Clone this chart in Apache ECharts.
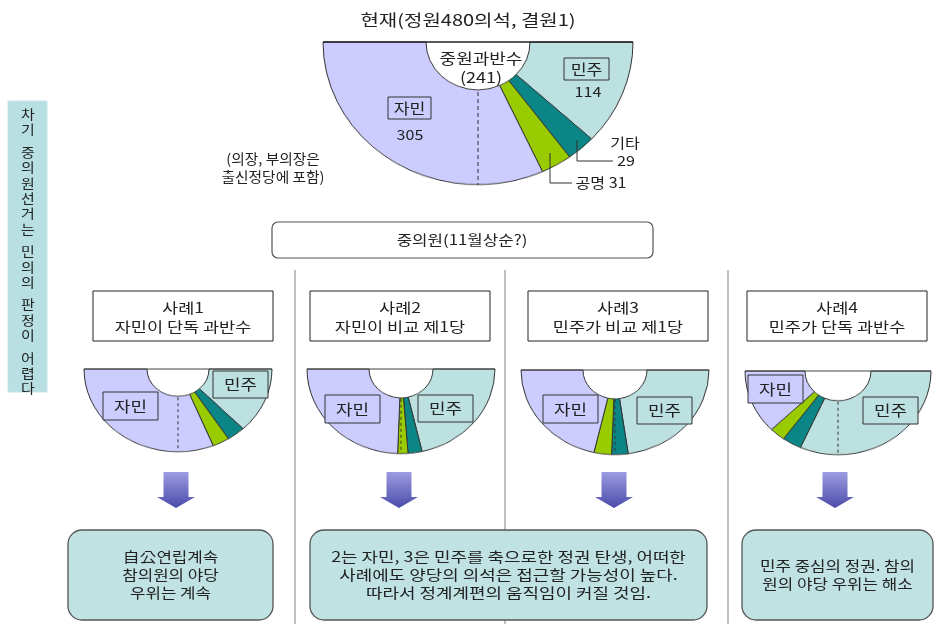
<!DOCTYPE html>
<html><head><meta charset="utf-8">
<script src="https://cdn.jsdelivr.net/npm/echarts@6/dist/echarts.min.js"></script>
<style>
html,body{margin:0;padding:0;background:#fff;width:937px;height:624px;overflow:hidden}
.pie{position:absolute;z-index:1}
#overlay{position:absolute;left:0;top:0;width:937px;height:624px;z-index:2}
</style></head><body>
<div id="p0" class="pie"></div>
<div id="p1" class="pie"></div>
<div id="p2" class="pie"></div>
<div id="p3" class="pie"></div>
<div id="p4" class="pie"></div>
<div id="overlay"></div>
<script>
// ---- data ----
const parties = ['민주', '기타', '공명', '자민'];
const currentSeats = [114, 29, 31, 305];
const case1Seats = [123, 30, 28, 298];
const case2Seats = [205, 23, 17, 234];
const case3Seats = [218, 27, 29, 205];
const case4Seats = [303, 32, 26, 118];
const partyColors = ['#bde0e0', '#0b8585', '#99cc00', '#ccccff'];
const title = '현재(정원480의석, 결원1)';
const caseTitles = ['사례1\n자민이 단독 과반수', '사례2\n자민이 비교 제1당', '사례3\n민주가 비교 제1당', '사례4\n민주가 단독 과반수'];
const conclusions = ['自公연립계속\n참의원의 야당\n우위는 계속',
  '2는 자민, 3은 민주를 축으로한 정권 탄생, 어떠한\n사례에도 양당의 의석은 접근할 가능성이 높다.\n따라서 정계계편의 움직임이 커질 것임.',
  '민주 중심의 정권. 참의\n원의 야당 우위는 해소'];
const sideText = '차기 중의원선거는 민의의 판정이 어렵다';

const FONT = '"Noto Sans CJK KR", "Noto Sans", sans-serif';

// ---- pies ----
function makePie(id, seats, cx, cy, r0, r, sy) {
  const size = 2 * r + 10;
  const el = document.getElementById(id);
  el.style.left = (cx - size / 2) + 'px';
  el.style.top = (cy - size / 2) + 'px';
  el.style.width = size + 'px';
  el.style.height = size + 'px';
  el.style.transformOrigin = (size / 2) + 'px ' + (size / 2) + 'px';
  el.style.transform = 'scaleY(' + sy + ')';
  const total = seats.reduce((a, b) => a + b, 0);
  const data = seats.map((v, i) => ({ name: parties[i], value: v, itemStyle: { color: partyColors[i] } }));
  data.push({ name: '', value: total, itemStyle: { color: 'rgba(0,0,0,0)', borderWidth: 0 } });
  const ch = echarts.init(el, null, { renderer: 'canvas' });
  ch.setOption({
    animation: false,
    series: [{
      type: 'pie', center: ['50%', '50%'], radius: [r0, r],
      startAngle: 0, clockwise: true, silent: true,
      label: { show: false }, labelLine: { show: false },
      itemStyle: { borderColor: '#333', borderWidth: 1 },
      data: data
    }]
  });
}
makePie('p0', currentSeats, 478, 42, 52, 155, 0.92);
makePie('p1', case1Seats, 178, 369, 31, 94, 0.88);
makePie('p2', case2Seats, 401, 369, 32, 94, 0.9);
makePie('p3', case3Seats, 615, 370, 32, 94, 0.9);
makePie('p4', case4Seats, 838, 371, 33, 93, 0.9);

// ---- overlay graphics ----
const g = [];
function text(t, x, y, size, sx, opts) {
  g.push({ type: 'text', x: x, y: y, z: 10, scaleX: sx || 1.15,
    style: Object.assign({ text: t, font: size + 'px ' + FONT, fill: '#222', align: 'center', verticalAlign: 'middle', lineHeight: Math.round(size * 1.3) }, opts || {}) });
}
function rect(x, y, w, h, fill, stroke, r, lw, z) {
  g.push({ type: 'rect', z: z || 5, shape: { x: x, y: y, width: w, height: h, r: r || 0 }, style: { fill: fill, stroke: stroke, lineWidth: lw || 1 } });
}
function line(x1, y1, x2, y2, stroke, lw, dash, z) {
  g.push({ type: 'line', z: z || 6, shape: { x1: x1, y1: y1, x2: x2, y2: y2 }, style: { stroke: stroke, lineWidth: lw || 1, lineDash: dash || null } });
}

// title
text(title, 468, 20, 16, 1.25);
// main pie extras
line(323, 42, 633, 42, '#222', 1.5);
line(478, 92, 478, 185, '#333', 1, [4, 3]);
text('중원과반수\n(241)', 481, 68, 15, 1.2, { lineHeight: 19 });
rect(388, 97, 43, 22, partyColors[3], '#333', 0, 1);
text('자민', 409.5, 108, 15, 1.15);
text('305', 410, 135, 14, 1.15);
rect(564, 58, 45, 22, partyColors[0], '#333', 0, 1);
text('민주', 586.5, 69, 15, 1.15);
text('114', 588, 92, 14, 1.15);
// leaders
line(577, 140, 577, 161, '#333', 1);
line(577, 161, 613, 161, '#333', 1);
text('기타', 625, 143, 14, 1.15);
text('29', 626, 161, 14, 1.15);
line(550, 153, 550, 183, '#333', 1);
line(550, 183, 572, 183, '#333', 1);
text('공명 31', 601, 183, 14, 1.15);
text('(의장, 부의장은\n출신정당에 포함)', 273, 168, 14, 1.05, { lineHeight: 18 });

// side box
rect(8, 101, 39, 291, '#b8dfe2', '#c8e4e6', 0, 1);
{
  let yy = 114;
  for (const ch of sideText) {
    if (ch === ' ') { yy += 7; continue; }
    text(ch, 28, yy, 13, 1.15);
    yy += 15.4;
  }
}

// 중의원 box
rect(272, 222, 381, 36, '#fff', '#555', 6, 1.2);
text('중의원(11월상순?)', 462, 240, 14, 1.2);

// separators (behind boxes)
[295, 505, 728].forEach(x => line(x, 270, x, 624, '#aaa', 1.5, null, 1));

// case boxes
const caseBoxX = [93, 310, 528, 747];
caseBoxX.forEach((x, i) => {
  rect(x, 291, 180, 50, '#fff', '#222', 0, 1);
  text(caseTitles[i], x + 90, 317, 14, 1.25, { lineHeight: 19 });
});

// case pie extras (top edges, dashed majority lines, labels)
const pieCx = [178, 401, 615, 838];
const pieTop = [369, 369, 370, 371];
const pieR = [94, 94, 94, 93];
const pieR0 = [31, 32, 32, 33];
const pieSy = [0.88, 0.9, 0.9, 0.9];
pieCx.forEach((cx, i) => {
  line(cx - pieR[i], pieTop[i], cx + pieR[i], pieTop[i], '#444', 1.2);
  line(cx, pieTop[i] + pieR0[i] * pieSy[i] + 1, cx, pieTop[i] + pieR[i] * pieSy[i] - 1, '#333', 1, [3, 3]);
});
const jaminBox = [[103, 392], [325, 395], [543, 395], [748, 375]];
const minjuBox = [[213, 371], [418, 395], [637, 397], [863, 397]];
jaminBox.forEach(p => { rect(p[0], p[1], 55, 28, partyColors[3], '#333', 0, 1); text('자민', p[0] + 27.5, p[1] + 14, 15, 1.2); });
minjuBox.forEach(p => { rect(p[0], p[1], 55, 27, partyColors[0], '#333', 0, 1); text('민주', p[0] + 27.5, p[1] + 13.5, 15, 1.2); });

// arrows
[176, 399, 614, 835].forEach(cx => {
  g.push({ type: 'polygon', z: 5,
    shape: { points: [[cx - 12.5, 472], [cx + 12.5, 472], [cx + 12.5, 497], [cx + 19, 497], [cx, 508], [cx - 19, 497], [cx - 12.5, 497]] },
    style: { fill: new echarts.graphic.LinearGradient(0, 0, 0, 1, [{ offset: 0, color: '#9c9ce2' }, { offset: 1, color: '#4b4baa' }]) } });
});

// bottom boxes
const botBoxes = [[68, 530, 205, 90], [310, 530, 397, 90], [742, 530, 191, 90]];
botBoxes.forEach((b, i) => {
  rect(b[0], b[1], b[2], b[3], '#c0e2e3', '#555', 14, 1.3);
  text(conclusions[i], b[0] + b[2] / 2, b[1] + b[3] / 2, 14, i === 1 ? 1.28 : 1.2, { lineHeight: 18 });
});

const ov = echarts.init(document.getElementById('overlay'), null, { renderer: 'canvas' });
ov.setOption({ animation: false, backgroundColor: 'transparent', graphic: { elements: g } });
</script>
</body></html>
